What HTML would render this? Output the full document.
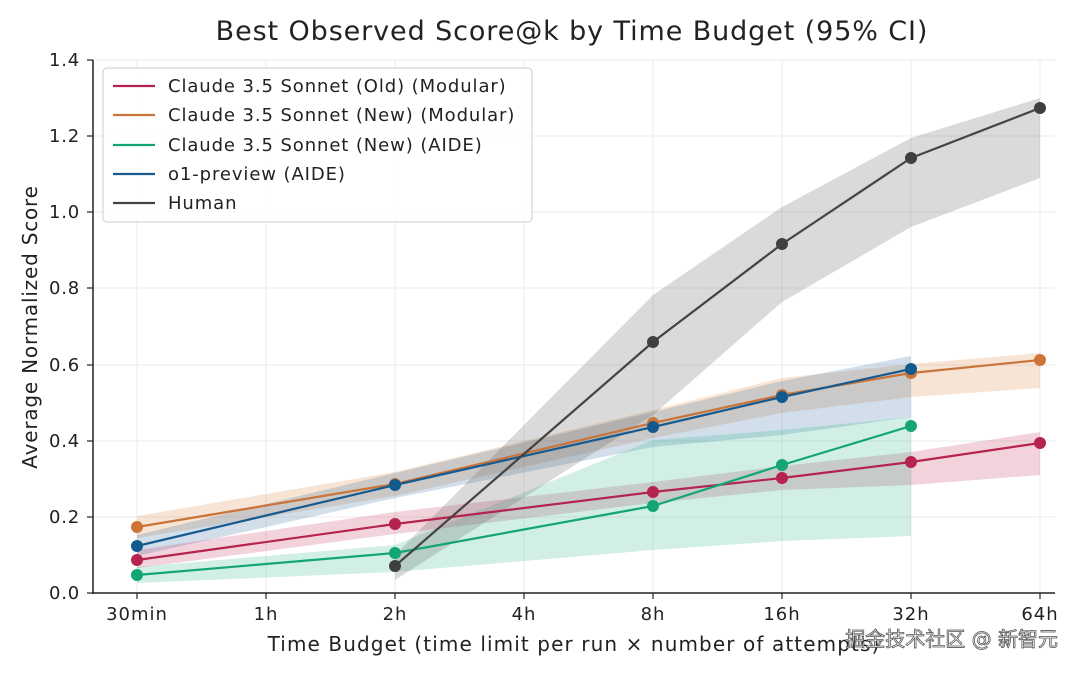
<!DOCTYPE html>
<html><head><meta charset="utf-8"><style>
body{margin:0;background:#fff;width:1080px;height:675px;overflow:hidden;font-family:"DejaVu Sans","Liberation Sans","Noto Sans CJK SC",sans-serif}
svg text{font-family:"DejaVu Sans","Liberation Sans","Noto Sans CJK SC",sans-serif}
</style></head><body>
<svg width="1080" height="675" viewBox="0 0 1080 675">
<rect width="1080" height="675" fill="#fff"/>
<text x="572" y="40" font-size="27" letter-spacing="0.9" text-anchor="middle" fill="#222">Best Observed Score@k by Time Budget (95% CI)</text>
<g stroke="#ebebeb" stroke-width="1">
<line x1="137" y1="60" x2="137" y2="593"/><line x1="266" y1="60" x2="266" y2="593"/><line x1="395" y1="60" x2="395" y2="593"/><line x1="524" y1="60" x2="524" y2="593"/><line x1="653" y1="60" x2="653" y2="593"/><line x1="782" y1="60" x2="782" y2="593"/><line x1="911" y1="60" x2="911" y2="593"/><line x1="1040" y1="60" x2="1040" y2="593"/>
<line x1="93" y1="60" x2="1055" y2="60"/><line x1="93" y1="136" x2="1055" y2="136"/><line x1="93" y1="212" x2="1055" y2="212"/><line x1="93" y1="288" x2="1055" y2="288"/><line x1="93" y1="365" x2="1055" y2="365"/><line x1="93" y1="441" x2="1055" y2="441"/><line x1="93" y1="517" x2="1055" y2="517"/>
</g>
<!-- bands -->
<polygon points="137,516 395,472 653,410 782,378 911,364 1040,353 1040,388 911,397 782,413 653,438 395,496 137,538" fill="#d9853b" opacity="0.22"/>
<polygon points="137,535 395,473 653,412 782,381 911,356 911,417 782,435 653,447 395,498 137,556" fill="#1f5f9a" opacity="0.2"/>
<polygon points="137,550 395,512 653,482 782,466 911,452 1040,432 1040,475 911,485 782,490 653,503 395,534 137,568" fill="#c0254f" opacity="0.2"/>
<polygon points="137,567 395,545 653,440 782,430 911,417 911,536 782,541 653,550 395,572 137,583" fill="#1bb07e" opacity="0.2"/>
<polygon points="395,555 653,295 782,207 911,138 1040,98 1040,178 911,227 782,302 653,415 395,580" fill="#555" opacity="0.22"/>
<g fill="none" stroke-width="2.2" stroke-linejoin="round">
<polyline points="137,527 395,484 653,423 782,395 911,373 1040,360" stroke="#c8743a"/>
<polyline points="137,546 395,485 653,427 782,397 911,369" stroke="#175a8f"/>
<polyline points="137,560 395,524 653,492 782,478 911,462 1040,443" stroke="#b5234f"/>
<polyline points="137,575 395,553 653,506 782,465 911,426" stroke="#14a575"/>
<polyline points="395,566 653,342 782,244 911,158 1040,108" stroke="#444"/>
</g>
<g>
<g fill="#cf7437"><circle cx="137" cy="527" r="6"/><circle cx="395" cy="484" r="6"/><circle cx="653" cy="423" r="6"/><circle cx="782" cy="395" r="6"/><circle cx="911" cy="373" r="6"/><circle cx="1040" cy="360" r="6"/></g>
<g fill="#135a8c"><circle cx="137" cy="546" r="6"/><circle cx="395" cy="485" r="6"/><circle cx="653" cy="427" r="6"/><circle cx="782" cy="397" r="6"/><circle cx="911" cy="369" r="6"/></g>
<g fill="#b5234f"><circle cx="137" cy="560" r="6"/><circle cx="395" cy="524" r="6"/><circle cx="653" cy="492" r="6"/><circle cx="782" cy="478" r="6"/><circle cx="911" cy="462" r="6"/><circle cx="1040" cy="443" r="6"/></g>
<g fill="#14a575"><circle cx="137" cy="575" r="6"/><circle cx="395" cy="553" r="6"/><circle cx="653" cy="506" r="6"/><circle cx="782" cy="465" r="6"/><circle cx="911" cy="426" r="6"/></g>
<g fill="#3f3f3f"><circle cx="395" cy="566" r="6"/><circle cx="653" cy="342" r="6"/><circle cx="782" cy="244" r="6"/><circle cx="911" cy="158" r="6"/><circle cx="1040" cy="108" r="6"/></g>
</g>
<!-- axes -->
<line x1="93" y1="60" x2="93" y2="594" stroke="#222" stroke-width="1.5"/>
<line x1="92" y1="593" x2="1055" y2="593" stroke="#222" stroke-width="1.5"/>
<g stroke="#222" stroke-width="1.2">
<line x1="87" y1="60" x2="93" y2="60"/><line x1="87" y1="136" x2="93" y2="136"/><line x1="87" y1="212" x2="93" y2="212"/><line x1="87" y1="288" x2="93" y2="288"/><line x1="87" y1="365" x2="93" y2="365"/><line x1="87" y1="441" x2="93" y2="441"/><line x1="87" y1="517" x2="93" y2="517"/><line x1="87" y1="593" x2="93" y2="593"/>
<line x1="137" y1="593" x2="137" y2="599"/><line x1="266" y1="593" x2="266" y2="599"/><line x1="395" y1="593" x2="395" y2="599"/><line x1="524" y1="593" x2="524" y2="599"/><line x1="653" y1="593" x2="653" y2="599"/><line x1="782" y1="593" x2="782" y2="599"/><line x1="911" y1="593" x2="911" y2="599"/><line x1="1040" y1="593" x2="1040" y2="599"/>
</g>
<g font-size="18" letter-spacing="0.8" fill="#222" text-anchor="end">
<text x="80" y="66">1.4</text><text x="80" y="142">1.2</text><text x="80" y="218">1.0</text><text x="80" y="294">0.8</text><text x="80" y="371">0.6</text><text x="80" y="447">0.4</text><text x="80" y="523">0.2</text><text x="80" y="599">0.0</text>
</g>
<g font-size="18" letter-spacing="1" fill="#222" text-anchor="middle">
<text x="137" y="620">30min</text><text x="266" y="620">1h</text><text x="395" y="620">2h</text><text x="524" y="620">4h</text><text x="653" y="620">8h</text><text x="782" y="620">16h</text><text x="911" y="620">32h</text><text x="1040" y="620">64h</text>
</g>
<text x="574" y="651" font-size="20" letter-spacing="1.1" fill="#222" text-anchor="middle">Time Budget (time limit per run × number of attempts)</text>
<text transform="translate(37,327) rotate(-90)" font-size="20" letter-spacing="0.8" fill="#222" text-anchor="middle">Average Normalized Score</text>
<!-- legend -->
<rect x="103" y="68" width="429" height="154" rx="4" fill="#fff" fill-opacity="0.85" stroke="#ccc"/>
<g stroke-width="2.2">
<line x1="113" y1="86" x2="155" y2="86" stroke="#b5234f"/>
<line x1="113" y1="115" x2="155" y2="115" stroke="#c8743a"/>
<line x1="113" y1="145" x2="155" y2="145" stroke="#14a575"/>
<line x1="113" y1="174" x2="155" y2="174" stroke="#175a8f"/>
<line x1="113" y1="203" x2="155" y2="203" stroke="#444"/>
</g>
<g font-size="18" letter-spacing="0.9" fill="#222">
<text x="168" y="92">Claude 3.5 Sonnet (Old) (Modular)</text>
<text x="168" y="121">Claude 3.5 Sonnet (New) (Modular)</text>
<text x="168" y="151">Claude 3.5 Sonnet (New) (AIDE)</text>
<text x="168" y="180">o1-preview (AIDE)</text>
<text x="168" y="209">Human</text>
</g>
<text x="1058" y="646" font-size="20" fill="#fff" stroke="#555" stroke-width="0.8" text-anchor="end" font-family="Noto Sans CJK SC, sans-serif">掘金技术社区 @ 新智元</text>
</svg>
</body></html>
